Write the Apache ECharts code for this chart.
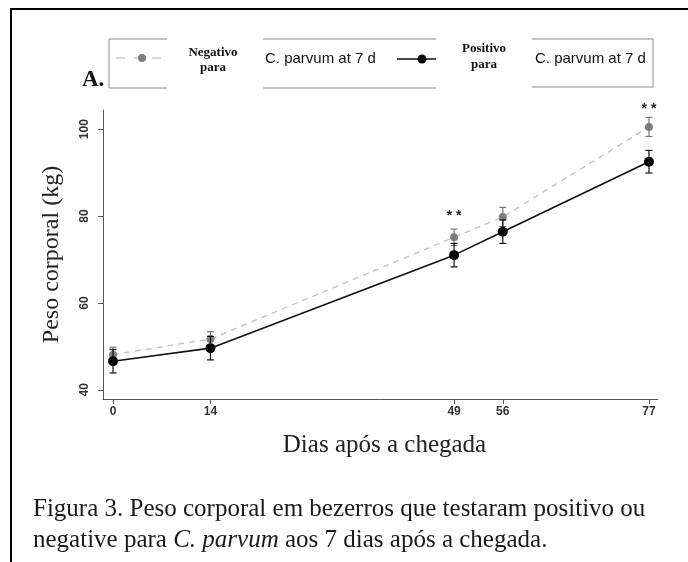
<!DOCTYPE html>
<html>
<head>
<meta charset="utf-8">
<script src="https://cdn.jsdelivr.net/npm/echarts@6/dist/echarts.min.js"></script>
<style>
html,body{margin:0;padding:0;background:#fff;}
#chart{width:688px;height:562px;}
</style>
</head>
<body>
<div id="chart"></div>
<script>
// ---- data ----
const days = [0, 14, 49, 56, 77];
const negMean = [48.1, 51.7, 75.1, 79.8, 100.5];
const negErr = [1.7, 1.7, 1.9, 2.2, 2.2];
const posMean = [46.6, 49.6, 71.0, 76.4, 92.5];
const posErr = [2.7, 2.7, 2.7, 2.7, 2.6];
const yTicks = [40, 60, 80, 100];
const xTicks = [0, 14, 49, 56, 77];
const sigDays = [49, 77];
const sigY = [80.0, 104.6];
const sigText = ['* *', '* *'];

const chart = echarts.init(document.getElementById('chart'));

function errData(mean, err) {
  return days.map((d, i) => [d, mean[i] - err[i], mean[i] + err[i]]);
}
function errRender(color) {
  return function (params, api) {
    const x = api.value(0);
    const top = api.coord([x, api.value(2)]);
    const bot = api.coord([x, api.value(1)]);
    const w = 3.5;
    const st = { stroke: color, lineWidth: 1.2 };
    return {
      type: 'group',
      children: [
        { type: 'line', shape: { x1: top[0], y1: top[1], x2: bot[0], y2: bot[1] }, style: st },
        { type: 'line', shape: { x1: top[0] - w, y1: top[1], x2: top[0] + w, y2: top[1] }, style: st },
        { type: 'line', shape: { x1: bot[0] - w, y1: bot[1], x2: bot[0] + w, y2: bot[1] }, style: st }
      ]
    };
  };
}

const serif = '"Liberation Serif", "DejaVu Serif", serif';
const sans = '"Liberation Sans", Arial, sans-serif';
const gline = { stroke: '#8a8a8a', lineWidth: 1 };

const option = {
  backgroundColor: '#fff',
  animation: false,
  grid: { left: 103, right: 30, top: 110, bottom: 163 },
  xAxis: {
    type: 'value', min: -1.44, max: 78.3,
    axisLine: { onZero: false, lineStyle: { color: '#555', width: 1 } },
    axisTick: { customValues: xTicks, length: 5, lineStyle: { color: '#555' } },
    axisLabel: { customValues: xTicks, margin: 7, fontFamily: sans, fontSize: 12, fontWeight: 'bold', color: '#333' },
    splitLine: { show: false },
    name: 'Dias após a chegada', nameLocation: 'middle', nameGap: 34,
    nameTextStyle: { fontFamily: serif, fontSize: 25, color: '#222', padding: [0, 0, 0, 8] }
  },
  yAxis: {
    type: 'value', min: 37.9, max: 104.4,
    axisLine: { show: true, onZero: false, lineStyle: { color: '#555', width: 1 } },
    axisTick: { show: true, customValues: yTicks, length: 5, lineStyle: { color: '#555' } },
    axisLabel: { customValues: yTicks, rotate: 90, margin: 12, fontFamily: sans, fontSize: 12, fontWeight: 'bold', color: '#333' },
    splitLine: { show: false },
    name: 'Peso corporal (kg)', nameLocation: 'middle', nameGap: 39, nameRotate: 90,
    nameTextStyle: { fontFamily: serif, fontSize: 24, color: '#222' }
  },
  series: [
    {
      name: 'Negativo', type: 'line',
      data: days.map((d, i) => [d, negMean[i]]),
      symbol: 'circle', symbolSize: 8,
      lineStyle: { color: '#cdbcbc', width: 1.3, type: [6, 5] },
      itemStyle: { color: '#808080' },
      z: 2
    },
    {
      type: 'custom', renderItem: errRender('#777'), data: errData(negMean, negErr), z: 3, silent: true
    },
    {
      name: 'Positivo', type: 'line',
      data: days.map((d, i) => [d, posMean[i]]),
      symbol: 'circle', symbolSize: 10,
      lineStyle: { color: '#111', width: 1.6 },
      itemStyle: { color: '#000' },
      z: 4
    },
    {
      type: 'custom', renderItem: errRender('#111'), data: errData(posMean, posErr), z: 5, silent: true
    },
    {
      type: 'custom', silent: true, clip: false, z: 6,
      data: sigDays.map((d, i) => [d, sigY[i], i]),
      renderItem: function (params, api) {
        const p = api.coord([api.value(0), api.value(1)]);
        return {
          type: 'text',
          style: { text: sigText[api.value(2)], x: p[0], y: p[1], align: 'center', verticalAlign: 'middle',
            font: 'bold 14px ' + sans, fill: '#222' }
        };
      }
    }
  ],
  graphic: [
    // frame
    { type: 'line', shape: { x1: 10, y1: 9, x2: 688, y2: 9 }, style: { stroke: '#000', lineWidth: 2 } },
    { type: 'line', shape: { x1: 11, y1: 8, x2: 11, y2: 562 }, style: { stroke: '#000', lineWidth: 2 } },
    // panel label
    { type: 'text', left: 82, top: 69, style: { text: 'A.', font: 'bold 23px ' + serif, fill: '#111' } },
    // legend boxes
    { type: 'polyline', shape: { points: [[167, 39], [109, 39], [109, 88], [167, 88]] }, style: Object.assign({ fill: null }, gline) },
    { type: 'line', shape: { x1: 263, y1: 39, x2: 436, y2: 39 }, style: gline },
    { type: 'line', shape: { x1: 263, y1: 88, x2: 436, y2: 88 }, style: gline },
    { type: 'polyline', shape: { points: [[532, 39], [653, 39], [653, 87], [532, 87]] }, style: Object.assign({ fill: null }, gline) },
    // legend symbols
    { type: 'line', shape: { x1: 116, y1: 58, x2: 162, y2: 58 }, style: { stroke: '#cdbcbc', lineWidth: 1.3, lineDash: [9, 9], lineDashOffset: 0 } },
    { type: 'circle', shape: { cx: 142, cy: 58, r: 4 }, style: { fill: '#808080' } },
    { type: 'line', shape: { x1: 397, y1: 59, x2: 436, y2: 59 }, style: { stroke: '#111', lineWidth: 1.6 } },
    { type: 'circle', shape: { cx: 422, cy: 59, r: 4.5 }, style: { fill: '#000' } },
    // legend texts
    { type: 'text', x: 213, y: 60, style: { text: 'Negativo\npara', align: 'center', verticalAlign: 'middle', lineHeight: 15, font: 'bold 13px ' + serif, fill: '#111' } },
    { type: 'text', x: 484, y: 57, style: { text: 'Positivo\npara', align: 'center', verticalAlign: 'middle', lineHeight: 16, font: 'bold 13px ' + serif, fill: '#111' } },
    { type: 'text', x: 265, y: 59, style: { text: 'C. parvum at 7 d', verticalAlign: 'middle', font: '15px ' + sans, fill: '#111' } },
    { type: 'text', x: 535, y: 59, style: { text: 'C. parvum at 7 d', verticalAlign: 'middle', font: '15px ' + sans, fill: '#111' } },
    // caption
    {
      type: 'text', x: 33, y: 494,
      style: {
        text: 'Figura 3. Peso corporal em bezerros que testaram positivo ou\nnegative para {i|C. parvum} aos 7 dias após a chegada.',
        font: '25px ' + serif, fill: '#1a1a1a', lineHeight: 31,
        rich: { i: { fontStyle: 'italic', fontFamily: serif, fontSize: 25, fill: '#1a1a1a', lineHeight: 31 } }
      }
    }
  ]
};
chart.setOption(option);
</script>
</body>
</html>
